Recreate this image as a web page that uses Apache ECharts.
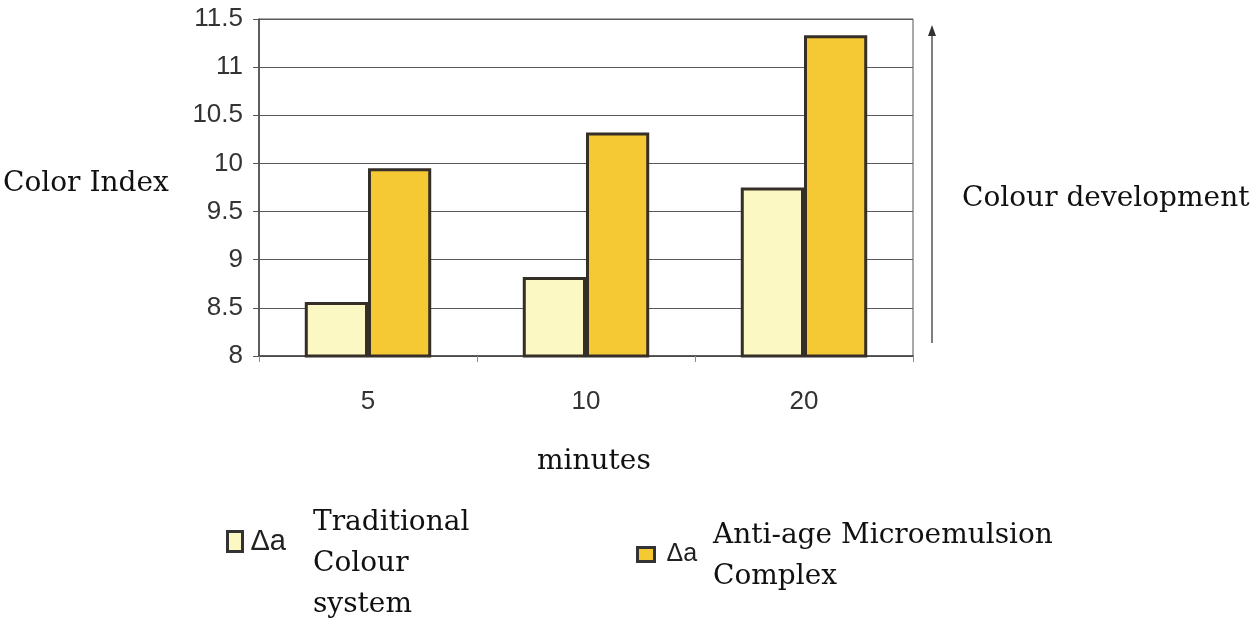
<!DOCTYPE html>
<html>
<head>
<meta charset="utf-8">
<script src="https://cdn.jsdelivr.net/npm/echarts@6/dist/echarts.min.js"></script>
<style>html,body{margin:0;padding:0;background:#fff}#c{width:1253px;height:621px}</style>
</head>
<body>
<div id="c"></div>
<script>
var categories = ['5', '10', '20'];
var traditional = [8.56, 8.82, 9.75];
var antiAge = [9.95, 10.32, 11.33];
var seriesNames = ['Traditional Colour system', 'Anti-age Microemulsion Complex'];
var yTicks = { min: 8, max: 11.5, interval: 0.5 };

var serif = 'DejaVu Serif';
var sans = 'Liberation Sans';
var chart = echarts.init(document.getElementById('c'));
chart.setOption({
  animation: false,
  backgroundColor: '#fff',
  grid: { left: 259, top: 19, width: 654, height: 337, show: true, borderColor: '#555', borderWidth: 1, backgroundColor: 'transparent' },
  xAxis: {
    type: 'category', data: categories, boundaryGap: true,
    axisLine: { lineStyle: { color: '#444', width: 1.5 } },
    axisTick: { show: true, interval: 0, length: 6, lineStyle: { color: '#888' } },
    axisLabel: { fontFamily: sans, fontSize: 26, color: '#333', margin: 33 }
  },
  yAxis: {
    type: 'value', min: yTicks.min, max: yTicks.max, interval: yTicks.interval,
    axisLine: { show: true, lineStyle: { color: '#444', width: 1.5 } },
    axisTick: { show: true, length: 6, lineStyle: { color: '#555' } },
    axisLabel: { fontFamily: sans, fontSize: 26, color: '#333', margin: 16 },
    splitLine: { lineStyle: { color: '#5a5a5a', width: 1 } }
  },
  legend: [
    {
      data: [seriesNames[0]], left: 221, top: 522, icon: 'rect', itemWidth: 15, itemHeight: 20,
      itemStyle: { borderColor: '#333', borderWidth: 3 },
      formatter: function () { return 'Δa'; },
      textStyle: { fontFamily: sans, fontSize: 29, color: '#222', padding: [0, 0, 0, 3] }
    },
    {
      data: [seriesNames[1]], left: 631, top: 537, icon: 'rect', itemWidth: 17, itemHeight: 14,
      itemStyle: { borderColor: '#333', borderWidth: 3 },
      formatter: function () { return 'Δa'; },
      textStyle: { fontFamily: sans, fontSize: 25, color: '#222', padding: [0, 0, 0, 7] }
    }
  ],
  series: [
    {
      name: seriesNames[0], type: 'bar', data: traditional, barGap: '0%', barCategoryGap: '42%',
      itemStyle: { color: '#FCF8C4', borderColor: '#352f28', borderWidth: 3 }
    },
    {
      name: seriesNames[1], type: 'bar', data: antiAge,
      itemStyle: { color: '#F5C934', borderColor: '#352f28', borderWidth: 3 }
    }
  ],
  graphic: [
    { type: 'text', left: 3, top: 167, style: { text: 'Color Index', fontFamily: serif, fontSize: 28, lineHeight: 34, fill: '#111' } },
    { type: 'text', left: 962, top: 182, style: { text: 'Colour development', fontFamily: serif, fontSize: 28, lineHeight: 34, fill: '#111' } },
    { type: 'text', left: 537, top: 445, style: { text: 'minutes', fontFamily: serif, fontSize: 28, lineHeight: 34, fill: '#111' } },
    { type: 'text', left: 313, top: 502, style: { text: 'Traditional\nColour\nsystem', fontFamily: serif, fontSize: 28, lineHeight: 41, fill: '#111' } },
    { type: 'text', left: 713, top: 515, style: { text: 'Anti-age Microemulsion\nComplex', fontFamily: serif, fontSize: 28, lineHeight: 41, fill: '#111' } },
    { type: 'line', shape: { x1: 932, y1: 343, x2: 932, y2: 32 }, style: { stroke: '#555', lineWidth: 1.5 } },
    { type: 'polygon', shape: { points: [[928, 36], [936, 36], [932, 25]] }, style: { fill: '#333' } }
  ]
});
</script>
</body>
</html>
